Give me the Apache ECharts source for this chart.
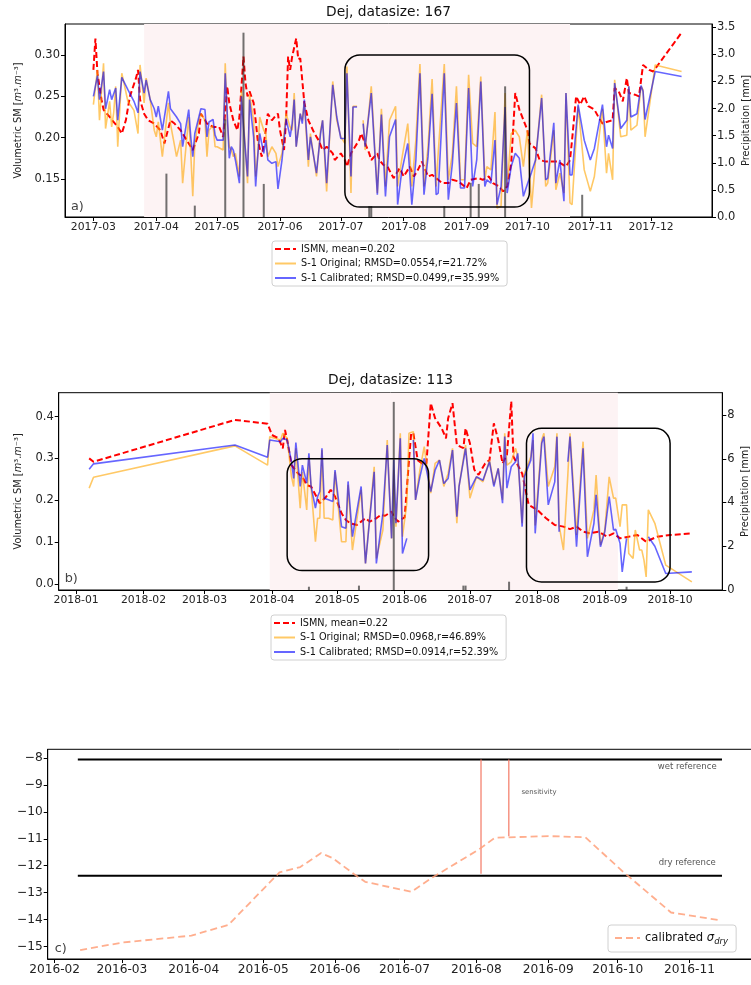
<!DOCTYPE html>
<html><head><meta charset="utf-8">
<script src="https://cdn.jsdelivr.net/npm/echarts@6/dist/echarts.min.js"></script>
<style>html,body{margin:0;padding:0;background:#fff}#c{width:751px;height:985px}</style>
</head><body><div id="c"></div><script>
// ---------------- DATA ----------------
// Panel a (2017) — days counted from aBase
const aTitle = 'Dej, datasize: 167';
const aBase = '2017-03-01';
const aNames = ['ISMN, mean=0.202', 'S-1 Original; RMSD=0.0554,r=21.72%', 'S-1 Calibrated; RMSD=0.0499,r=35.99%'];
const aS1Days = [0,2,3,5,6,8,9,10,11,12,14,17,20,22,23,25,26,28,30,31,32,34,37,38,41,43,44,47,48,49,50,52,53,55,56,57,59,60,61,64,65,66,67,68,69,70,72,73,74,76,77,79,80,81,82,84,85,86,88,90,91,93,95,97,98,99,100,102,103,104,106,107,110,112,113,115,118,120,122,124,125,127,128,130,131,133,134,137,140,142,144,146,149,150,152,155,157,159,161,163,165,167,169,170,173,175,177,179,181,183,185,187,189,191,193,194,196,198,199,201,203,204,206,208,210,212,214,216,218,221,223,224,227,228,230,232,233,235,236,239,242,245,247,251,253,254,256,257,260,263,264,265,268,270,271,272,277,290];
const aOrig = [0.240,0.282,0.221,0.290,0.211,0.244,0.213,0.230,0.262,0.189,0.278,0.244,0.233,0.205,0.288,0.242,0.272,0.246,0.209,0.201,0.219,0.177,0.242,0.217,0.177,0.197,0.145,0.225,0.181,0.129,0.193,0.221,0.229,0.221,0.177,0.209,0.215,0.189,0.189,0.185,0.290,0.221,0.189,0.185,0.177,0.181,0.153,0.256,0.221,0.145,0.252,0.221,0.153,0.177,0.225,0.209,0.205,0.177,0.189,0.181,0.165,0.181,0.229,0.213,0.209,0.254,0.189,0.229,0.221,0.242,0.165,0.205,0.153,0.209,0.221,0.135,0.268,0.221,0.201,0.193,0.286,0.133,0.238,0.238,null,0.221,0.185,0.262,0.133,0.235,0.141,0.221,0.238,0.141,0.173,0.217,0.141,0.197,0.289,0.141,0.189,0.271,0.141,0.181,0.289,0.149,0.181,0.262,0.149,0.149,0.276,0.193,0.189,0.274,0.149,0.165,0.161,0.231,0.115,0.117,0.254,0.141,0.205,0.209,0.201,0.165,0.209,0.115,0.173,0.252,0.141,0.145,0.209,0.137,0.157,0.133,0.254,0.121,0.119,0.238,0.161,0.135,0.153,0.235,0.157,0.181,0.149,0.270,0.201,0.203,0.262,0.209,0.215,0.262,0.258,0.201,0.288,0.280];
const aCal = [0.250,0.275,0.246,0.280,0.235,0.258,0.246,0.253,0.260,0.221,0.273,0.258,0.244,0.230,0.280,0.254,0.270,0.246,0.235,0.225,0.238,0.209,0.256,0.235,0.225,0.217,0.189,0.234,0.201,0.177,0.205,0.225,0.235,0.234,0.201,0.219,0.222,0.203,0.197,0.197,0.278,0.229,0.175,0.189,0.185,0.173,0.145,0.250,0.213,0.153,0.246,0.201,0.141,0.177,0.205,0.181,0.197,0.173,0.169,0.171,0.138,0.173,0.223,0.201,0.217,0.246,0.189,0.229,0.217,0.246,0.173,0.201,0.157,0.205,0.221,0.145,0.264,0.225,0.199,0.199,0.278,0.153,0.237,0.237,null,0.217,0.189,0.254,0.131,0.228,0.129,0.201,0.222,0.119,0.159,0.193,0.119,0.173,0.278,0.131,0.177,0.253,0.131,0.133,0.278,0.125,0.169,0.242,0.139,0.139,0.260,0.141,0.173,0.268,0.141,0.149,0.145,0.197,0.119,0.141,0.237,0.133,0.165,0.181,0.175,0.129,0.144,0.158,0.173,0.248,0.149,0.151,0.218,0.145,0.173,0.123,0.254,0.155,0.155,0.240,0.197,0.173,0.187,0.240,0.189,0.203,0.187,0.266,0.211,0.221,0.262,0.225,0.229,0.263,0.256,0.222,0.280,0.274];
const aIsmnDays = [0,1,2,4,5,8,12,14,16,18,21,22,23,25,27,30,33,35,38,40,43,46,49,52,53,56,59,62,64,66,67,69,71,72,74,75,76,77,79,80,81,83,85,86,88,90,91,92,94,95,96,97,98,100,101,102,104,106,109,111,113,115,118,119,122,124,125,127,131,132,134,136,137,140,141,143,145,148,151,153,156,158,160,162,165,167,170,172,175,177,180,182,184,186,190,192,195,197,200,202,204,206,208,210,214,215,218,220,223,226,229,233,235,236,238,240,242,244,247,249,251,253,256,257,259,261,263,264,267,269,271,274,276,290];
const aIsmn = [0.282,0.320,0.278,0.246,0.234,0.225,0.213,0.205,0.221,0.250,0.272,0.282,0.246,0.229,0.221,0.217,0.209,0.193,0.221,0.217,0.209,0.197,0.185,0.205,0.229,0.217,0.213,0.213,0.201,0.262,0.242,0.221,0.209,0.225,0.298,0.266,0.250,0.256,0.242,0.221,0.197,0.177,0.209,0.229,0.221,0.227,0.229,0.209,0.185,0.221,0.298,0.282,0.298,0.320,0.295,0.296,0.242,0.221,0.205,0.197,0.185,0.189,0.181,0.173,0.181,0.173,0.165,0.181,0.197,0.205,0.193,0.181,0.173,0.181,0.173,0.167,0.165,0.151,0.163,0.153,0.165,0.153,0.161,0.171,0.153,0.155,0.149,0.145,0.145,0.149,0.147,0.143,0.139,0.149,0.151,0.149,0.153,0.145,0.141,0.135,0.141,0.169,0.254,0.234,0.209,0.193,0.187,0.173,0.171,0.171,0.171,0.165,0.173,0.197,0.250,0.240,0.250,0.238,0.234,0.225,0.217,0.219,0.221,0.260,0.256,0.244,0.272,0.254,0.252,0.250,0.288,0.282,0.280,0.327];
const aRainDays = [36,50,65,74,84,136,137,173,186,190,203,241];
const aRain = [0.80,0.21,1.80,3.40,0.61,0.20,0.20,0.20,0.63,0.61,2.41,0.41];
const aShade = ['2017-03-26','2017-10-22'];
const aBox = ['2017-07-03','2017-10-02',0.116,0.300];
const aMonths = ['2017-03-01','2017-04-01','2017-05-01','2017-06-01','2017-07-01','2017-08-01','2017-09-01','2017-10-01','2017-11-01','2017-12-01'];
const aSmTicks = [0.15,0.20,0.25,0.30];
const aRainTicks = [0,0.5,1,1.5,2,2.5,3,3.5];

// Panel b (2018) — days counted from bBase
const bTitle = 'Dej, datasize: 113';
const bBase = '2018-01-01';
const bNames = ['ISMN, mean=0.22', 'S-1 Original; RMSD=0.0968,r=46.89%', 'S-1 Calibrated; RMSD=0.0914,r=52.39%'];
const bS1Days = [6,8,73,88,89,94,95,97,99,100,101,103,104,106,107,108,110,111,112,113,114,116,118,119,122,124,125,127,131,133,137,138,141,143,145,146,147,149,150,152,153,155,156,158,160,163,165,167,169,171,173,175,176,179,181,184,187,190,192,194,196,197,198,200,202,203,205,206,209,210,211,214,215,217,220,221,222,224,226,227,230,233,235,238,239,241,243,245,247,248,250,251,253,254,256,257,259,260,261,262,263,266,271,283];
const bOrig = [0.229,0.255,0.330,0.284,0.352,0.344,0.360,0.348,0.256,0.233,0.324,0.181,0.268,0.177,0.304,0.233,0.101,0.157,0.157,0.320,0.157,0.157,0.153,0.268,0.101,0.101,0.237,0.081,0.225,0.049,0.280,0.061,0.129,0.344,0.109,0.272,0.137,0.360,0.113,0.193,0.360,0.364,0.201,0.272,0.328,0.217,0.288,0.296,0.233,0.264,0.324,0.145,0.233,0.332,0.205,0.256,0.244,0.296,0.237,0.276,0.201,0.360,0.284,0.292,0.324,0.304,0.145,0.264,0.304,0.344,0.140,0.344,0.360,0.233,0.280,0.360,0.140,0.081,0.260,0.360,0.117,0.340,0.109,0.177,0.260,0.093,0.129,0.256,0.205,0.205,0.137,0.189,0.189,0.073,0.061,0.129,0.081,0.081,0.057,0.017,0.177,0.145,0.045,0.005];
const bCal = [0.274,0.287,0.332,0.303,0.344,0.340,0.348,0.344,0.292,0.252,0.338,0.233,0.284,0.241,0.312,0.233,0.181,0.209,0.221,0.324,0.205,0.201,0.197,0.272,0.137,0.133,0.245,0.113,0.233,0.049,0.268,0.049,0.169,0.332,0.109,0.296,0.145,0.348,0.073,0.109,null,0.344,0.201,0.256,0.300,0.221,0.272,0.296,0.240,0.252,0.320,0.161,0.233,0.324,0.225,0.256,0.248,0.292,0.233,0.276,0.193,0.352,0.229,0.280,0.292,0.312,0.137,0.256,0.296,0.360,0.121,0.336,0.352,0.189,0.244,0.352,0.125,null,0.292,0.352,0.089,0.324,0.065,0.145,0.213,0.089,0.125,0.209,0.129,0.131,0.097,0.029,0.109,null,null,null,null,null,null,null,0.113,0.090,0.025,0.029];
const bIsmnDays = [6,8,73,88,90,93,95,96,97,99,102,104,106,108,110,112,115,117,119,122,124,126,129,131,133,135,138,140,142,145,146,148,149,151,153,154,155,157,159,161,163,165,168,170,171,173,175,177,178,179,181,183,185,188,190,192,194,196,198,200,201,205,208,212,216,220,224,227,230,233,236,240,244,247,250,254,258,262,267,273,283];
const bIsmn = [0.300,0.292,0.392,0.383,0.356,0.348,0.324,0.368,0.344,0.284,0.264,0.256,0.236,0.233,0.213,0.193,0.209,0.225,0.209,0.169,0.153,0.145,0.141,0.149,0.157,0.149,0.157,0.165,0.163,0.173,0.161,0.149,0.153,0.159,0.296,0.360,0.360,0.296,0.288,0.288,0.432,0.396,0.372,0.348,0.396,0.432,0.332,0.327,0.325,0.372,0.336,0.273,0.261,0.288,0.296,0.384,0.344,0.288,0.308,0.436,0.304,0.264,0.189,0.177,0.157,0.141,0.137,0.131,0.137,0.125,0.121,0.125,0.113,0.121,0.109,0.113,0.117,0.101,0.113,0.117,0.121];
const bRainDays = [107,130,146,178,179,199,253];
const bRain = [0.15,0.20,8.60,0.20,0.20,0.38,0.15];
const bShade = ['2018-03-31','2018-09-07'];
const bBoxes = [['2018-04-08','2018-06-12',0.032,0.299],['2018-07-27','2018-10-01',0.005,0.372]];
const bMonths = ['2018-01-01','2018-02-01','2018-03-01','2018-04-01','2018-05-01','2018-06-01','2018-07-01','2018-08-01','2018-09-01','2018-10-01'];
const bSmTicks = [0,0.1,0.2,0.3,0.4];
const bRainTicks = [0,2,4,6,8];

// Panel c (2016)
const cName = 'calibrated σdry';
const cDates = ['2016-02-12','2016-03-01','2016-03-31','2016-04-16','2016-05-08','2016-05-17','2016-05-26','2016-05-31','2016-06-09','2016-06-14','2016-07-04','2016-07-13','2016-08-02','2016-08-09','2016-09-01','2016-09-17','2016-10-03','2016-10-24','2016-11-14'];
const cSigma = [-15.14,-14.86,-14.6,-14.2,-12.25,-12.05,-11.53,-11.72,-12.3,-12.6,-12.97,-12.44,-11.4,-10.96,-10.9,-10.94,-12.2,-13.74,-14.03];
const cRefSpan = ['2016-02-11','2016-11-15'];
const cWetRef = -8.05;
const cDryRef = -12.37;
const cSensDates = ['2016-08-03','2016-08-15'];
const cSensBottom = [-12.3,-10.9];
const cNotes = [['wet reference','2016-10-31',-8.31,8.5],['sensitivity','2016-08-28',-9.25,6.9],['dry reference','2016-10-31',-11.91,8.5]];
const cMonths = ['2016-02-01','2016-03-01','2016-04-01','2016-05-01','2016-06-01','2016-07-01','2016-08-01','2016-09-01','2016-10-01','2016-11-01'];
const cTicks = [-8,-9,-10,-11,-12,-13,-14,-15];

// ---------------- CHART ----------------
const FONT = 'DejaVu Sans';
const DAY = 864e5;
const T = s => Date.parse(s);
const pts = (base, days, vals) => days.map((d, i) => [T(base) + d * DAY, vals[i]]);
const fmtMonth = v => { const d = new Date(v); return d.getUTCFullYear() + '-' + String(d.getUTCMonth() + 1).padStart(2, '0'); };

const grids = [
  {left: 65, top: 24, width: 647, height: 193},
  {left: 58.7, top: 392.7, width: 663.6, height: 197.3},
  {left: 47.7, top: 749.3, width: 716, height: 209.7}
];

function xAx(g, min, max, ticks, fs) {
  const vals = ticks.map(T);
  return {type: 'value', gridIndex: g, min: T(min), max: T(max), scale: true,
    axisLine: {show: true, onZero: false, lineStyle: {color: '#000', width: 1}},
    axisTick: {show: true, length: 4, lineStyle: {color: '#000'}, customValues: vals},
    axisLabel: {show: true, customValues: vals, formatter: v => fmtMonth(v), color: '#222', fontSize: fs, fontFamily: FONT, margin: 5,
      showMinLabel: true, showMaxLabel: true},
    splitLine: {show: false}};
}
function yAx(g, pos, min, max, ticks, fmt, fs, name, gap) {
  return {type: 'value', gridIndex: g, position: pos, min: min, max: max, scale: true,
    axisLine: {show: true, onZero: false, lineStyle: {color: '#000', width: 1}},
    axisTick: {show: true, length: 4, lineStyle: {color: '#000'}, customValues: ticks},
    axisLabel: {show: true, customValues: ticks, formatter: fmt, color: '#222', fontSize: fs, fontFamily: FONT, margin: 5},
    splitLine: {show: false},
    name: name || '', nameLocation: 'middle', nameRotate: 90, nameGap: gap || 0, nameMoveOverlap: false,
    nameTextStyle: {color: '#222', fontSize: 9.8, fontFamily: FONT,
      rich: {n: {fontSize: 9.8, fontFamily: FONT, color: '#222'}, i: {fontSize: 9.8, fontFamily: FONT, fontStyle: 'italic', color: '#222'}}}};
}
const smName = '{n|Volumetric SM [}{i|m}{n|³.}{i|m}{n|⁻³]}';
const minus = v => (v < 0 ? '\u2212' : '') + Math.abs(v);

// thin precipitation bars drawn through the axis scales
const rainItem = (params, api) => {
  const x = api.value(0), v = api.value(1);
  const p0 = api.coord([x, 0]), p1 = api.coord([x, v]);
  return {type: 'rect', shape: {x: p0[0] - 1, y: p1[1], width: 2, height: p0[1] - p1[1]},
    style: {fill: 'rgba(40,40,40,0.65)'}};
};

function panelSeries(g, yL, yR, base, names, s1Days, orig, cal, ismnDays, ismn, rainDays, rain, shade) {
  return [
    {type: 'line', xAxisIndex: g, yAxisIndex: yL, data: [], silent: true, z: 0,
      markArea: {silent: true, itemStyle: {color: '#fdf3f4'}, data: [[{xAxis: T(shade[0])}, {xAxis: T(shade[1])}]]}},
    {name: names[0], type: 'line', xAxisIndex: g, yAxisIndex: yL, data: pts(base, ismnDays, ismn), symbol: 'none', z: 2,
      lineStyle: {color: '#ff0000', width: 2, type: [6, 3]}, itemStyle: {color: '#ff0000'}},
    {name: names[1], type: 'line', xAxisIndex: g, yAxisIndex: yL, data: pts(base, s1Days, orig), symbol: 'none', z: 3,
      lineStyle: {color: 'rgba(255,165,0,0.6)', width: 1.6}, itemStyle: {color: 'rgba(255,165,0,0.6)'}},
    {name: names[2], type: 'line', xAxisIndex: g, yAxisIndex: yL, data: pts(base, s1Days, cal), symbol: 'none', z: 4,
      lineStyle: {color: 'rgba(0,0,255,0.6)', width: 1.6}, itemStyle: {color: 'rgba(0,0,255,0.6)'}},
    {name: 'rain' + g, type: 'custom', xAxisIndex: g, yAxisIndex: yR, data: pts(base, rainDays, rain), z: 5,
      renderItem: rainItem, encode: {x: 0, y: 1}, silent: true}
  ];
}

const legendCommon = {orient: 'vertical', itemWidth: 21, itemHeight: 10, itemGap: 4.5, padding: [3, 8, 3, 2],
  borderColor: '#d0d0d0', borderWidth: 1, borderRadius: 3, backgroundColor: '#fff', selectedMode: false,
  itemStyle: {opacity: 0},
  textStyle: {fontFamily: FONT, fontSize: 9.7, color: '#111'}};

const option = {
  animation: false, backgroundColor: '#fff',
  textStyle: {fontFamily: FONT},
  grid: grids.map(g => Object.assign({show: true, borderColor: '#000', borderWidth: 1, backgroundColor: 'transparent',
    containLabel: false, outerBoundsMode: 'none'}, g)),
  xAxis: [
    xAx(0, '2017-02-15', '2017-12-31', aMonths, 10.8),
    xAx(1, '2017-12-24', '2018-10-25', bMonths, 10.8),
    xAx(2, '2016-01-29', '2016-12-03', cMonths, 12.2)
  ],
  yAxis: [
    yAx(0, 'left', 0.104, 0.3375, aSmTicks, v => v.toFixed(2), 11.5, smName, 42),
    yAx(0, 'right', 0, 3.56, aRainTicks, v => v.toFixed(1), 11.5, 'Precipitation [mm]', 29),
    yAx(1, 'left', -0.0144, 0.457, bSmTicks, v => v.toFixed(1), 11.5, smName, 35.5),
    yAx(1, 'right', 0, 9.02, bRainTicks, v => String(v), 11.5, 'Precipitation [mm]', 18),
    yAx(2, 'left', -15.47, -7.67, cTicks, minus, 12.2)
  ],
  legend: [
    Object.assign({}, legendCommon, {left: 272, top: 241, data: aNames}),
    Object.assign({}, legendCommon, {left: 271, top: 615, data: bNames}),
    Object.assign({}, legendCommon, {left: 608, top: 925, data: [cName], itemWidth: 25, padding: [6, 8, 6, 6],
      formatter: () => '{a|calibrated }{b|σ}{c|dry}',
      textStyle: {fontFamily: FONT, fontSize: 11.6, color: '#111',
        rich: {a: {fontSize: 11.6, fontFamily: FONT, lineHeight: 16, verticalAlign: 'middle'},
               b: {fontSize: 11.6, fontFamily: FONT, fontStyle: 'italic', lineHeight: 16, verticalAlign: 'middle'},
               c: {fontSize: 8.5, fontFamily: FONT, fontStyle: 'italic', lineHeight: 16, verticalAlign: 'bottom', padding: [6, 0, 0, 0]}}}})
  ],
  series: [].concat(
    panelSeries(0, 0, 1, aBase, aNames, aS1Days, aOrig, aCal, aIsmnDays, aIsmn, aRainDays, aRain, aShade),
    panelSeries(1, 2, 3, bBase, bNames, bS1Days, bOrig, bCal, bIsmnDays, bIsmn, bRainDays, bRain, bShade),
    [
      {name: 'wet', type: 'line', xAxisIndex: 2, yAxisIndex: 4, symbol: 'none', data: cRefSpan.map(d => [T(d), cWetRef]), lineStyle: {color: '#000', width: 2}},
      {name: 'dry', type: 'line', xAxisIndex: 2, yAxisIndex: 4, symbol: 'none', data: cRefSpan.map(d => [T(d), cDryRef]), lineStyle: {color: '#000', width: 2}},
      {name: 'sens1', type: 'line', xAxisIndex: 2, yAxisIndex: 4, symbol: 'none', data: [[T(cSensDates[0]), cWetRef], [T(cSensDates[0]), cSensBottom[0]]], lineStyle: {color: '#f58370', width: 1.3}},
      {name: 'sens2', type: 'line', xAxisIndex: 2, yAxisIndex: 4, symbol: 'none', data: [[T(cSensDates[1]), cWetRef], [T(cSensDates[1]), cSensBottom[1]]], lineStyle: {color: '#f58370', width: 1.3}},
      {name: cName, type: 'line', xAxisIndex: 2, yAxisIndex: 4, symbol: 'none', z: 4, data: cDates.map((d, i) => [T(d), cSigma[i]]),
        lineStyle: {color: 'rgba(255,160,122,0.85)', width: 1.8, type: [7, 4]}, itemStyle: {color: 'rgba(255,160,122,0.85)'}}
    ]
  )
};

const chart = echarts.init(document.getElementById('c'), null, {renderer: 'canvas'});
chart.setOption(option);

// annotations positioned from data coordinates
const leftY = [0, 2, 4];
const P = (g, t, v) => chart.convertToPixel({xAxisIndex: g, yAxisIndex: leftY[g]}, [T(t), v]);
const gfx = [];
[[0, aBox]].concat(bBoxes.map(b => [1, b])).forEach(([g, b]) => {
  const p1 = P(g, b[0], b[3]), p2 = P(g, b[1], b[2]);
  gfx.push({type: 'rect', z: 100, silent: true, shape: {x: p1[0], y: p1[1], width: p2[0] - p1[0], height: p2[1] - p1[1], r: 15},
    style: {fill: 'none', stroke: '#000', lineWidth: 1.5}});
});
cNotes.forEach(([txt, d, v, fs]) => {
  const p = P(2, d, v);
  gfx.push({type: 'text', z: 100, silent: true, x: p[0], y: p[1],
    style: {text: txt, fontSize: fs, fontFamily: FONT, fill: '#555', align: 'center', verticalAlign: 'middle'}});
});
[[0, aTitle, 12.7], [1, bTitle, 380.7]].forEach(([g, txt, y]) => {
  gfx.push({type: 'text', z: 100, silent: true, x: grids[g].left + grids[g].width / 2, y: y,
    style: {text: txt, fontSize: 13.8, fontFamily: FONT, fill: '#111', align: 'center', verticalAlign: 'middle'}});
});
[['a)', 0, 6, 10], ['b)', 1, 6, 11], ['c)', 2, 7, 10]].forEach(([txt, g, dx, dy]) => {
  const G = grids[g];
  gfx.push({type: 'text', z: 100, silent: true, x: G.left + dx, y: G.top + G.height - dy,
    style: {text: txt, fontSize: 12.8, fontFamily: FONT, fill: '#444', align: 'left', verticalAlign: 'middle'}});
});
chart.setOption({graphic: gfx});
</script></body></html>
